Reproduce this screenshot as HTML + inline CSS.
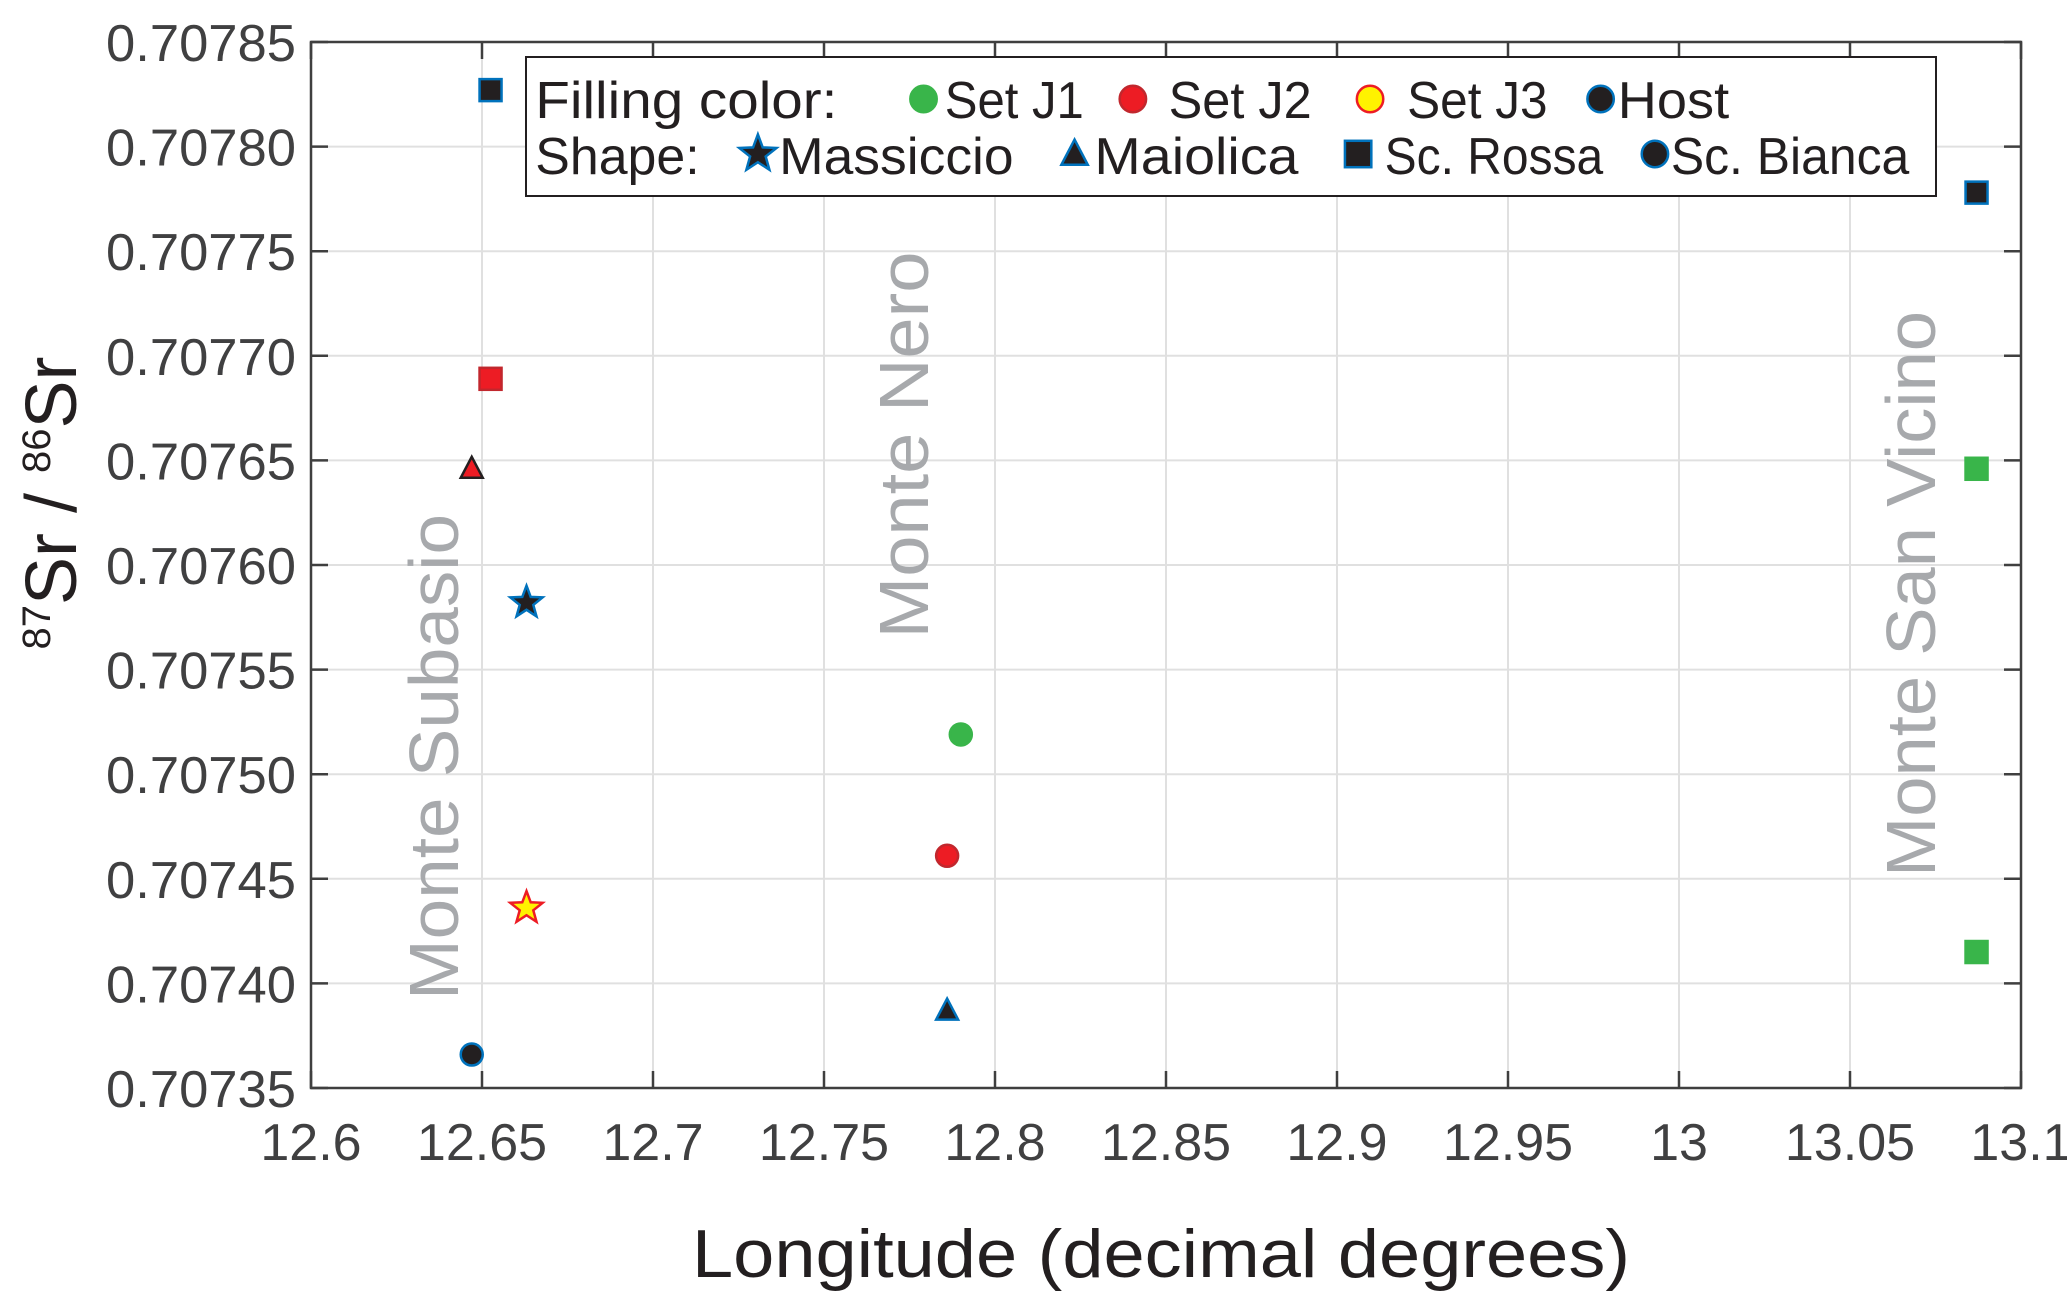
<!DOCTYPE html>
<html><head><meta charset="utf-8"><style>
html,body{margin:0;padding:0;background:#fff}
svg{display:block}
text{font-family:"Liberation Sans",sans-serif}
</style></head><body>
<svg id="chart" width="2067" height="1306" viewBox="0 0 2067 1306" xmlns="http://www.w3.org/2000/svg">
<g id="grid"></g>
<g id="labels">
<text transform="translate(458,757) rotate(-90)" text-anchor="middle" font-size="70" fill="#a7a9ac" textLength="486" lengthAdjust="spacingAndGlyphs">Monte Subasio</text>
<text transform="translate(928,445) rotate(-90)" text-anchor="middle" font-size="70" fill="#a7a9ac" textLength="387" lengthAdjust="spacingAndGlyphs">Monte Nero</text>
<text transform="translate(1935,594) rotate(-90)" text-anchor="middle" font-size="70" fill="#a7a9ac" textLength="566" lengthAdjust="spacingAndGlyphs">Monte San Vicino</text>
</g>
<g id="axes"></g>
<g id="marks"></g>
<g id="legend">
<rect x="526" y="57" width="1410" height="139" fill="#fff" stroke="#231f20" stroke-width="2"/>
</g>
<text x="1161" y="1277" text-anchor="middle" font-size="68" fill="#231f20" textLength="938" lengthAdjust="spacingAndGlyphs">Longitude (decimal degrees)</text>
<text transform="translate(76,503) rotate(-90)" text-anchor="middle" font-size="72" fill="#231f20"><tspan font-size="40" dy="-26">87</tspan><tspan dy="26">Sr / </tspan><tspan font-size="40" dy="-26">86</tspan><tspan dy="26">Sr</tspan></text>
</svg>
<script>
const xTicks=[12.6,12.65,12.7,12.75,12.8,12.85,12.9,12.95,13,13.05,13.1];
const xTickLabels=["12.6","12.65","12.7","12.75","12.8","12.85","12.9","12.95","13","13.05","13.1"];
const yTicks=[0.70735,0.7074,0.70745,0.7075,0.70755,0.7076,0.70765,0.7077,0.70775,0.7078,0.70785];
const yTickLabels=["0.70735","0.70740","0.70745","0.70750","0.70755","0.70760","0.70765","0.70770","0.70775","0.70780","0.70785"];
const pointLon=[12.6525,12.6525,12.647,12.663,12.663,12.647,12.790,12.786,12.786,13.087,13.087,13.087];
const pointSr=[0.707827,0.707689,0.707646,0.707582,0.707436,0.707366,0.707519,0.707461,0.707387,0.707778,0.707646,0.707415];
const pointShape=["square","square","triangle","star","star","circle","circle","circle","triangle","square","square","square"];
const pointSet=["host","J2","J2","host","J3","host","J1","J2","host","host","J1","J1"];

const NS="http://www.w3.org/2000/svg";
const L=311,R=2021,T=42,B=1088;
const xMin=12.6,xMax=13.1,yMin=0.70735,yMax=0.70785;
function X(v){return L+(v-xMin)/(xMax-xMin)*(R-L);}
function Y(v){return B-(v-yMin)/(yMax-yMin)*(B-T);}
function mk(tag,attrs,parent){const e=document.createElementNS(NS,tag);for(const k in attrs)e.setAttribute(k,attrs[k]);parent.appendChild(e);return e;}
const fills={J1:["#39b54a","#39b54a"],J2:["#ed1c24","#c1272d"],J3:["#fff200","#ed1c24"],host:["#231f20","#0072bc"]};
function starPts(cx,cy,r){let p=[];for(let i=0;i<10;i++){const rr=i%2?r*0.42:r;const a=-Math.PI/2+i*Math.PI/5;p.push((cx+rr*Math.cos(a)).toFixed(1)+","+(cy+rr*Math.sin(a)).toFixed(1));}return p.join(" ");}
function marker(shape,cx,cy,fill,stroke,parent,s){
  s=s||1;let e;
  if(shape==="square")e=mk("rect",{x:cx-11*s,y:cy-11*s,width:22*s,height:22*s},parent);
  else if(shape==="circle")e=mk("circle",{cx:cx,cy:cy,r:11*s},parent);
  else if(shape==="triangle")e=mk("polygon",{points:`${cx},${cy-12*s} ${cx+11*s},${cy+9*s} ${cx-11*s},${cy+9*s}`},parent);
  else e=mk("polygon",{points:starPts(cx,cy,17*s)},parent);
  e.setAttribute("fill",fill);e.setAttribute("stroke",stroke);e.setAttribute("stroke-width","2.5");
  return e;
}
const grid=document.getElementById("grid"),axes=document.getElementById("axes"),marks=document.getElementById("marks");
xTicks.forEach((v,i)=>{
  const g=mk("line",{x1:X(v),x2:X(v),y1:T,y2:B,stroke:"#e0e0e0","stroke-width":2},grid);
  
  
  mk("line",{x1:X(v),x2:X(v),y1:B,y2:B-17,stroke:"#3f3f3f","stroke-width":2.5},axes);
  mk("line",{x1:X(v),x2:X(v),y1:T,y2:T+17,stroke:"#3f3f3f","stroke-width":2.5},axes);
  const t=mk("text",{x:X(v),y:1160,"text-anchor":"middle","font-size":52,fill:"#404041"},axes);
  t.textContent=xTickLabels[i];
  
  
});
yTicks.forEach((v,i)=>{
  const g=mk("line",{x1:L,x2:R,y1:Y(v),y2:Y(v),stroke:"#e0e0e0","stroke-width":2},grid);
  
  
  mk("line",{x1:L,x2:L+17,y1:Y(v),y2:Y(v),stroke:"#3f3f3f","stroke-width":2.5},axes);
  mk("line",{x1:R,x2:R-17,y1:Y(v),y2:Y(v),stroke:"#3f3f3f","stroke-width":2.5},axes);
  const t=mk("text",{x:296,y:Y(v)+19,"text-anchor":"end","font-size":52,fill:"#404041",textLength:190,lengthAdjust:"spacingAndGlyphs"},axes);
  t.textContent=yTickLabels[i];
  
  
});
const frame=mk("rect",{x:L,y:T,width:R-L,height:B-T,fill:"none",stroke:"#3f3f3f","stroke-width":2.5},axes);


pointLon.forEach((lon,i)=>{
  const c=fills[pointSet[i]];
  let stroke=c[1];
  if(pointShape[i]==="triangle"&&pointSet[i]==="J2")stroke="#231f20";
  const m=marker(pointShape[i],X(lon),Y(pointSr[i]),c[0],stroke,marks);
  
  
});
const lg=document.getElementById("legend");
const s=1.325;
const legendText=[["Filling color:",404,632,1],["Set J1",713,818,1],["Set J2",882,990,1],["Set J3",1062,1168,1],["Host",1221,1305,1],
["Shape:",404,528,2],["Massiccio",588,765,2],["Maiolica",826,980,2],["Sc. Rossa",1045,1210,2],["Sc. Bianca",1261,1441,2]];
legendText.forEach(d=>{
  const t=mk("text",{x:d[1]*s,y:d[3]===1?118:174,"font-size":52,fill:"#231f20",textLength:(d[2]-d[1])*s,lengthAdjust:"spacingAndGlyphs"},lg);
  t.textContent=d[0];
  
  
});
const legMarks=[["circle",697,1,"J1"],["circle",855,1,"J2"],["circle",1034,1,"J3"],["circle",1208,1,"host"],
["star",572,2,"host"],["triangle",811,2,"host"],["square",1025,2,"host"],["circle",1249,2,"host"]];
legMarks.forEach(d=>{
  const c=fills[d[3]];
  const m=marker(d[0],d[1]*s,d[2]===1?99:154,c[0],c[1],lg,d[0]==="star"?1.15:1.2);
  
  
});
</script>
</body></html>
